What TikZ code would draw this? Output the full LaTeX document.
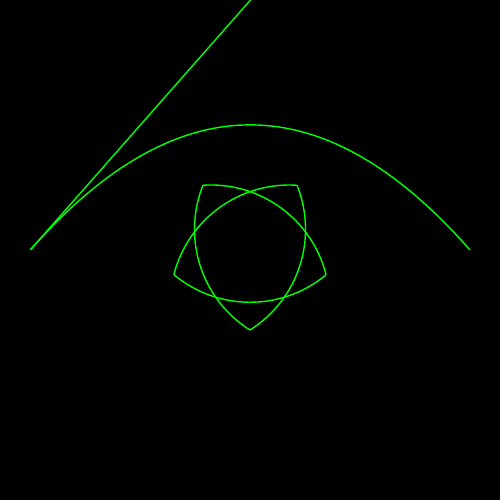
\documentclass[tikz,border=0pt]{standalone}
\usetikzlibrary{calc}
\begin{document}
\begin{tikzpicture}[x=0.01cm,y=0.01cm,
  curve/.style={draw={rgb,255:red,0;green,255;blue,0}, line width=0.4pt}]
\fill[black] (0,0) rectangle (500,500);
\useasboundingbox (0,0) rectangle (500,500);
\coordinate (S) at (250,250);
\coordinate (A) at (30.7,250.5);
\coordinate (Q) at (250.5,500);
\coordinate (E) at (470,250);
\draw[curve] (A) -- (Q);
\draw[curve] (A) .. controls ($(A)!2/3!(Q)$) and ($(E)!2/3!(Q)$) .. (E);
\foreach \t in {270,342,54,126,198} {
  \coordinate (P\t) at ($(S)+(\t-72:80)$);
  \draw[curve] (P\t) arc[start angle=\t-39.77, end angle=\t+39.77, radius=119];
}
\end{tikzpicture}
\end{document}
